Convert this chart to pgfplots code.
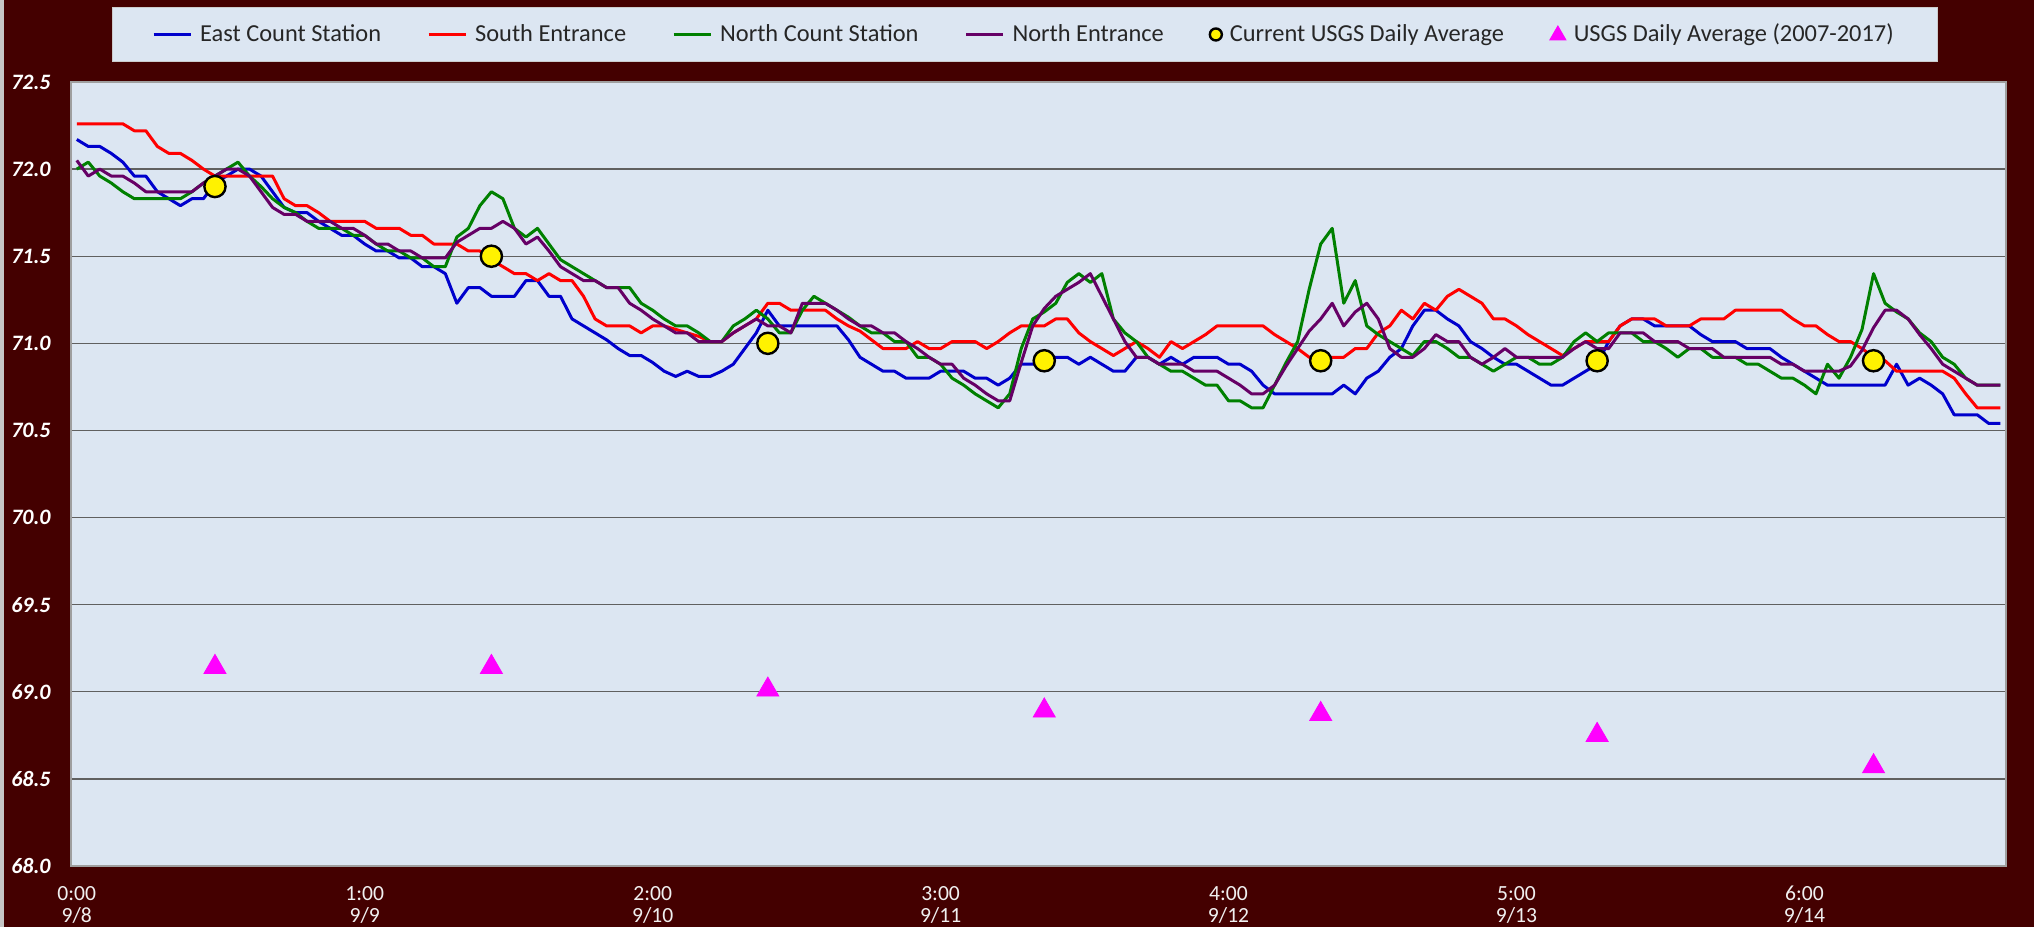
\documentclass[border=0pt]{standalone}
\usepackage{pgfplots}
\pgfplotsset{compat=1.18}
\usepackage{pgfplotstable}
\usepackage{fontspec}
\setmainfont{Carlito}
\definecolor{bgm}{HTML}{440000}
\definecolor{plotbg}{HTML}{DCE6F2}
\definecolor{eastc}{HTML}{0000CC}
\definecolor{southc}{HTML}{FF0000}
\definecolor{northc}{HTML}{008000}
\definecolor{nentc}{HTML}{660066}
\definecolor{gridc}{HTML}{606060}
\definecolor{magc}{HTML}{FF00FF}

\pgfplotsset{
  linelegend/.style={legend image code/.code={\draw[##1] (0bp,0bp) -- (18.5bp,0bp);}},
  circlegend/.style={legend image code/.code={\draw[##1, mark size=3bp] plot coordinates {(13bp,0bp)};}},
  trilegend/.style={legend image code/.code={\draw[##1, mark size=4.6bp] plot coordinates {(13bp,1.2bp)};}},
}

\pgfplotstableread{
h E S N NE
0 72.17 72.26 72.00 72.05
1 72.13 72.26 72.04 71.96
2 72.13 72.26 71.96 72.00
3 72.09 72.26 71.92 71.96
4 72.04 72.26 71.87 71.96
5 71.96 72.22 71.83 71.92
6 71.96 72.22 71.83 71.87
7 71.87 72.13 71.83 71.87
8 71.83 72.09 71.83 71.87
9 71.79 72.09 71.83 71.87
10 71.83 72.05 71.87 71.87
11 71.83 72.00 71.92 71.92
12 71.92 71.96 71.96 71.96
13 71.96 71.96 72.00 72.00
14 72.00 71.96 72.04 72.00
15 72.00 71.96 71.96 71.96
16 71.96 71.96 71.90 71.87
17 71.87 71.96 71.83 71.78
18 71.78 71.83 71.78 71.74
19 71.75 71.79 71.75 71.74
20 71.75 71.79 71.70 71.70
21 71.70 71.75 71.66 71.70
22 71.66 71.70 71.66 71.70
23 71.62 71.70 71.66 71.66
24 71.62 71.70 71.62 71.66
25 71.57 71.70 71.62 71.62
26 71.53 71.66 71.57 71.57
27 71.53 71.66 71.53 71.57
28 71.49 71.66 71.53 71.53
29 71.49 71.62 71.49 71.53
30 71.44 71.62 71.49 71.49
31 71.44 71.57 71.44 71.49
32 71.40 71.57 71.44 71.49
33 71.23 71.57 71.61 71.58
34 71.32 71.53 71.66 71.62
35 71.32 71.53 71.79 71.66
36 71.27 71.48 71.87 71.66
37 71.27 71.44 71.83 71.70
38 71.27 71.40 71.66 71.66
39 71.36 71.40 71.61 71.57
40 71.36 71.36 71.66 71.61
41 71.27 71.40 71.57 71.53
42 71.27 71.36 71.48 71.44
43 71.14 71.36 71.44 71.40
44 71.10 71.27 71.40 71.36
45 71.06 71.14 71.36 71.36
46 71.02 71.10 71.32 71.32
47 70.97 71.10 71.32 71.32
48 70.93 71.10 71.32 71.23
49 70.93 71.06 71.23 71.19
50 70.89 71.10 71.19 71.14
51 70.84 71.10 71.14 71.10
52 70.81 71.08 71.10 71.06
53 70.84 71.06 71.10 71.06
54 70.81 71.04 71.06 71.01
55 70.81 71.01 71.01 71.01
56 70.84 71.01 71.01 71.01
57 70.88 71.06 71.10 71.06
58 70.97 71.10 71.14 71.10
59 71.06 71.14 71.19 71.14
60 71.19 71.23 71.14 71.10
61 71.10 71.23 71.06 71.10
62 71.10 71.19 71.06 71.06
63 71.10 71.19 71.19 71.23
64 71.10 71.19 71.27 71.23
65 71.10 71.19 71.23 71.23
66 71.10 71.14 71.19 71.19
67 71.02 71.10 71.15 71.14
68 70.92 71.07 71.10 71.10
69 70.88 71.02 71.06 71.10
70 70.84 70.97 71.06 71.06
71 70.84 70.97 71.01 71.06
72 70.80 70.97 71.01 71.01
73 70.80 71.01 70.92 70.97
74 70.80 70.97 70.92 70.92
75 70.84 70.97 70.88 70.88
76 70.84 71.01 70.80 70.88
77 70.84 71.01 70.76 70.80
78 70.80 71.01 70.71 70.76
79 70.80 70.97 70.67 70.71
80 70.76 71.01 70.63 70.67
81 70.80 71.06 70.71 70.67
82 70.88 71.10 70.97 70.89
83 70.88 71.10 71.14 71.10
84 70.92 71.10 71.18 71.20
85 70.92 71.14 71.23 71.27
86 70.92 71.14 71.35 71.31
87 70.88 71.06 71.40 71.35
88 70.92 71.01 71.35 71.40
89 70.88 70.97 71.40 71.27
90 70.84 70.93 71.14 71.14
91 70.84 70.97 71.06 71.01
92 70.92 71.01 71.01 70.92
93 70.92 70.97 70.92 70.92
94 70.88 70.92 70.88 70.88
95 70.92 71.01 70.84 70.88
96 70.88 70.97 70.84 70.88
97 70.92 71.01 70.80 70.84
98 70.92 71.05 70.76 70.84
99 70.92 71.10 70.76 70.84
100 70.88 71.10 70.67 70.80
101 70.88 71.10 70.67 70.76
102 70.84 71.10 70.63 70.71
103 70.76 71.10 70.63 70.71
104 70.71 71.05 70.76 70.76
105 70.71 71.01 70.89 70.87
106 70.71 70.97 71.01 70.97
107 70.71 70.92 71.31 71.07
108 70.71 70.92 71.57 71.14
109 70.71 70.92 71.66 71.23
110 70.76 70.92 71.23 71.10
111 70.71 70.97 71.36 71.18
112 70.80 70.97 71.10 71.23
113 70.84 71.06 71.05 71.14
114 70.92 71.10 71.01 70.97
115 70.97 71.19 70.97 70.92
116 71.10 71.14 70.93 70.92
117 71.19 71.23 71.01 70.97
118 71.19 71.19 71.01 71.05
119 71.14 71.27 70.97 71.01
120 71.10 71.31 70.92 71.01
121 71.01 71.27 70.92 70.92
122 70.97 71.23 70.88 70.88
123 70.92 71.14 70.84 70.92
124 70.88 71.14 70.88 70.97
125 70.88 71.10 70.92 70.92
126 70.84 71.05 70.92 70.92
127 70.80 71.01 70.88 70.92
128 70.76 70.97 70.88 70.92
129 70.76 70.93 70.92 70.92
130 70.80 70.97 71.01 70.97
131 70.84 71.01 71.06 71.01
132 70.88 71.01 71.01 70.97
133 71.01 71.01 71.06 70.97
134 71.10 71.10 71.06 71.06
135 71.14 71.14 71.06 71.06
136 71.14 71.14 71.01 71.06
137 71.10 71.14 71.01 71.01
138 71.10 71.10 70.97 71.01
139 71.10 71.10 70.92 71.01
140 71.10 71.10 70.97 70.97
141 71.05 71.14 70.97 70.97
142 71.01 71.14 70.92 70.97
143 71.01 71.14 70.92 70.92
144 71.01 71.19 70.92 70.92
145 70.97 71.19 70.88 70.92
146 70.97 71.19 70.88 70.92
147 70.97 71.19 70.84 70.92
148 70.92 71.19 70.80 70.88
149 70.88 71.14 70.80 70.88
150 70.84 71.10 70.76 70.84
151 70.80 71.10 70.71 70.84
152 70.76 71.05 70.88 70.84
153 70.76 71.01 70.80 70.84
154 70.76 71.01 70.92 70.87
155 70.76 70.97 71.08 70.96
156 70.76 70.92 71.40 71.09
157 70.76 70.90 71.23 71.19
158 70.88 70.84 71.18 71.19
159 70.76 70.84 71.14 71.14
160 70.80 70.84 71.06 71.05
161 70.76 70.84 71.01 70.97
162 70.71 70.84 70.92 70.88
163 70.59 70.80 70.88 70.84
164 70.59 70.71 70.80 70.80
165 70.59 70.63 70.76 70.76
166 70.54 70.63 70.76 70.76
167 70.54 70.63 70.76 70.76
}\temps

\pgfplotstableread{
h v
12 71.90
36 71.50
60 71.00
84 70.90
108 70.90
132 70.90
156 70.90
}\current

\pgfplotstableread{
h v
12 69.16
36 69.16
60 69.03
84 68.91
108 68.89
132 68.77
156 68.59
}\hist

\begin{document}
\begin{tikzpicture}
\fill[bgm] (0,0) rectangle (1017bp,463.5bp);
\fill[gray!45] (0,0) rectangle (2bp,463.5bp);
\useasboundingbox (0,0) rectangle (1017bp,463.5bp);
\begin{axis}[
  at={(35.5bp,30.5bp)}, anchor=south west,
  scale only axis, width=967.5bp, height=392bp,
  xmin=-0.5, xmax=167.5, ymin=68, ymax=72.5,
  axis background/.style={fill=plotbg},
  axis line style={draw=gray!75, line width=0.8bp},
  ytick={68,68.5,69,69.5,70,70.5,71,71.5,72,72.5},
  ymajorgrids, major grid style={gridc, line width=0.7bp},
  major tick length=0pt,
  xtick={0,25,50,75,100,125,150},
  xticklabels={{0:00\\9/8},{1:00\\9/9},{2:00\\9/10},{3:00\\9/11},{4:00\\9/12},{5:00\\9/13},{6:00\\9/14}},
  xticklabel style={align=center, font=\fontsize{10.8bp}{11bp}\selectfont, text=white!88!gray, anchor=north, inner sep=0pt, yshift=-10bp},
  yticklabel style={font=\fontsize{11bp}{12bp}\selectfont\bfseries\itshape, text=white, anchor=east, inner sep=0pt, xshift=-10bp,
    /pgf/number format/fixed, /pgf/number format/fixed zerofill, /pgf/number format/precision=1},
  /pgf/number format/assume math mode=true,
  legend columns=6,
  legend cell align=left,
  legend style={at={(0.493,1.0606)}, anchor=center, fill=plotbg, draw=gray!40, line width=0.5bp,
    font=\fontsize{12.2bp}{14bp}\selectfont, text=black!85, inner xsep=20bp, inner ysep=6.5bp,
    /tikz/every even column/.append style={column sep=21bp},
    /tikz/every odd column/.append style={column sep=2bp}},
  linelegend,
]
\addplot[eastc, line width=1.5bp, line join=round] table[x=h,y=E]{\temps};
\addlegendentry{East Count Station}
\addplot[southc, line width=1.5bp, line join=round] table[x=h,y=S]{\temps};
\addlegendentry{South Entrance}
\addplot[northc, line width=1.5bp, line join=round] table[x=h,y=N]{\temps};
\addlegendentry{North Count Station}
\addplot[nentc, line width=1.5bp, line join=round] table[x=h,y=NE]{\temps};
\addlegendentry{North Entrance}
\addplot[only marks, mark=*, mark size=5.3bp, mark options={fill=yellow, draw=black, line width=1.2bp}, circlegend] table[x=h,y=v]{\current};
\addlegendentry{Current USGS Daily Average}
\addplot[only marks, mark=triangle*, mark size=6.35bp, color=magc, mark options={fill=magc, draw=magc, yshift=-1.6bp}, trilegend] table[x=h,y=v]{\hist};
\addlegendentry{USGS Daily Average (2007-2017)}
\end{axis}
\end{tikzpicture}
\end{document}
